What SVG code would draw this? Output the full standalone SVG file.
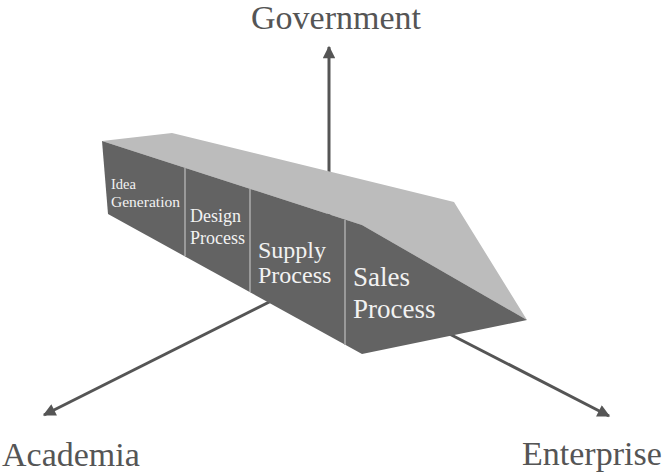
<svg xmlns="http://www.w3.org/2000/svg" width="665" height="475" viewBox="0 0 665 475">
<style>
.axis{stroke:#555;stroke-width:3;fill:none}
.lbl{font-family:'Liberation Serif','DejaVu Serif',serif;font-size:34px;fill:#555}
.in{font-family:'Liberation Serif','DejaVu Serif',serif;fill:#f2f2f2}
.div{stroke:#a8a8a8;stroke-width:1.6}
</style>
<defs>
<marker id="ah" viewBox="0 0 10 10" refX="9" refY="5" markerWidth="5.5" markerHeight="4.2" orient="auto" markerUnits="strokeWidth">
<path d="M0,0 L10,5 L0,10 z" fill="#555"/>
</marker>
</defs>
<rect width="665" height="475" fill="#fff"/>
<g id="connectors">
<line class="axis" x1="329" y1="272" x2="329" y2="47" marker-end="url(#ah)"/>
<line class="axis" x1="329" y1="272" x2="44" y2="415" marker-end="url(#ah)"/>
<line class="axis" x1="329" y1="272" x2="609" y2="416" marker-end="url(#ah)"/>
</g>
<g id="prism">
<polygon points="102,141 172,133 454,202 527,320 362,225" fill="#bcbcbc"/>
<polygon points="102,141 362,225 527,320 362,354 108,214" fill="#636363"/>
<line class="div" x1="185" y1="168" x2="185" y2="256"/>
<line class="div" x1="250" y1="189" x2="250" y2="292"/>
<line class="div" x1="345" y1="220" x2="345" y2="345"/>
</g>
<g id="idea"><text class="in" font-size="14.5" x="111" y="189">Idea</text><text class="in" font-size="14.5" x="111" y="207" textLength="69" lengthAdjust="spacingAndGlyphs">Generation</text></g>
<g id="design"><text class="in" font-size="18" x="190" y="222">Design</text><text class="in" font-size="18" x="190" y="244">Process</text></g>
<g id="supply"><text class="in" font-size="24" x="258" y="258">Supply</text><text class="in" font-size="24" x="258" y="283">Process</text></g>
<g id="sales"><text class="in" font-size="27" x="353" y="286">Sales</text><text class="in" font-size="27" x="353" y="318">Process</text></g>
<g id="government"><text class="lbl" x="336" y="29" text-anchor="middle">Government</text></g>
<g id="academia"><text class="lbl" x="2" y="466">Academia</text></g>
<g id="enterprise"><text class="lbl" x="522" y="465">Enterprise</text></g>
</svg>
